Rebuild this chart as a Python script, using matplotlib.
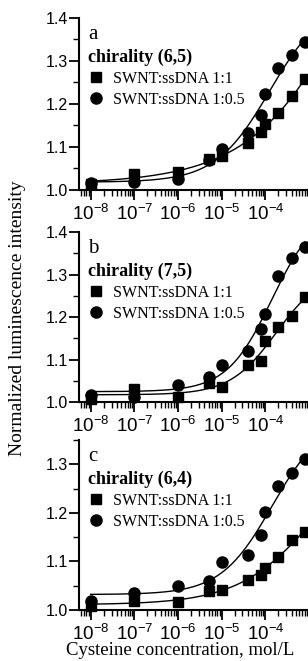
import numpy as np
import matplotlib
matplotlib.use("Agg")
import matplotlib.pyplot as plt
from matplotlib.ticker import LogLocator, MultipleLocator, NullFormatter, FixedLocator

# Datos (concentracion de cisteina, mol/L)
conc = [1e-8, 1e-7, 1e-6, 5e-6, 1e-5, 4e-5, 8e-5, 1e-4, 2e-4, 4e-4, 8e-4]

# (6,5)
a_11 = [1.013, 1.037, 1.041, 1.072, 1.080, 1.109, 1.134, 1.153, 1.178, 1.218, 1.257]
a_105 = [1.016, 1.019, 1.025, 1.070, 1.095, 1.132, 1.175, 1.223, 1.283, 1.313, 1.345]
# (7,5)
b_11 = [1.008, 1.031, 1.012, 1.045, 1.035, 1.086, 1.097, 1.144, 1.176, 1.203, 1.246]
b_105 = [1.016, 1.011, 1.039, 1.060, 1.088, 1.121, 1.172, 1.207, 1.296, 1.338, 1.365]
# (6,4)
c_11 = [1.008, 1.018, 1.017, 1.040, 1.042, 1.061, 1.073, 1.086, 1.110, 1.145, 1.160]
c_105 = [1.019, 1.034, 1.050, 1.059, 1.098, 1.114, 1.155, 1.201, 1.255, 1.282, 1.310]

letras = ['a', 'b', 'c']
quiralidad = ['chirality (6,5)', 'chirality (7,5)', 'chirality (6,4)']
series = [(a_11, a_105), (b_11, b_105), (c_11, c_105)]
ytops = [1.4, 1.4, 1.35]
etiquetas = ['SWNT:ssDNA 1:1', 'SWNT:ssDNA 1:0.5']

SERIF = 'Liberation Serif'
SANS = 'Liberation Sans'
plt.rcParams['mathtext.fontset'] = 'custom'
plt.rcParams['mathtext.rm'] = SANS
plt.rcParams['mathtext.it'] = SANS
plt.rcParams['mathtext.default'] = 'regular'


# Ajuste tipo Hill: y = y0 + A x^n / (K^n + x^n)
def ajuste_hill(x, y):
    x = np.asarray(x)
    y = np.asarray(y)
    mejor = None
    for lk in np.linspace(-6, -1, 101):
        for n in np.linspace(0.1, 1.5, 71):
            f = x**n / (10**(lk * n) + x**n)
            M = np.column_stack([np.ones_like(f), f])
            coef, *_ = np.linalg.lstsq(M, y, rcond=None)
            err = np.sum((M @ coef - y)**2)
            if mejor is None or err < mejor[0]:
                mejor = (err, lk, n, coef)
    _, lk, n, coef = mejor
    return lambda xx: coef[0] + coef[1] * xx**n / (10**(lk * n) + xx**n)


def etiqueta_x(v, p):
    return r'$10^{%d}$' % int(round(np.log10(v)))


fig = plt.figure(figsize=(3.08, 6.61), dpi=100)
posiciones = [[0.2565, 0.7126, 0.7435, 0.2602],
              [0.2565, 0.3918, 0.7435, 0.2572],
              [0.2565, 0.0772, 0.7435, 0.2572]]

xx = np.logspace(-8, np.log10(8e-4), 300)

for i in range(3):
    ax = fig.add_axes(posiciones[i])
    s11, s105 = series[i]
    for datos in (s11, s105):
        f = ajuste_hill(conc, datos)
        ax.plot(xx, f(xx), color='black', lw=1.0, clip_on=False)
    ax.plot(conc, s11, 's', color='black', ms=7, clip_on=False,
            label=etiquetas[0], zorder=3)
    ax.plot(conc, s105, 'o', color='black', ms=8, clip_on=False,
            label=etiquetas[1], zorder=3)

    ax.set_xscale('log')
    ax.set_xlim(5.4e-9, 9.5e-4)
    ax.set_ylim(1.0, ytops[i])
    ax.spines['top'].set_visible(False)
    ax.spines['right'].set_visible(False)
    ax.spines['left'].set_linewidth(1.5)
    ax.spines['bottom'].set_linewidth(1.5)

    ax.xaxis.set_major_locator(FixedLocator([1e-8, 1e-7, 1e-6, 1e-5, 1e-4]))
    ax.xaxis.set_major_formatter(plt.FuncFormatter(etiqueta_x))
    ax.xaxis.set_minor_locator(LogLocator(base=10, subs=np.arange(2, 10), numticks=20))
    ax.xaxis.set_minor_formatter(NullFormatter())
    ax.yaxis.set_major_locator(MultipleLocator(0.1))
    ax.yaxis.set_minor_locator(MultipleLocator(0.05))
    ax.yaxis.set_major_formatter(plt.FuncFormatter(lambda v, p: f'{v:.1f}'))
    ax.tick_params(axis='both', which='major', direction='out', length=7, width=1.3)
    ax.tick_params(axis='both', which='minor', direction='out', length=4, width=1.0)
    ax.tick_params(axis='x', labelsize=13.5, pad=3)
    ax.tick_params(axis='y', labelsize=11.5, pad=1)
    for lab in ax.get_xticklabels() + ax.get_yticklabels():
        lab.set_fontfamily(SANS)

    ax.text(0.04, 0.96, letras[i], transform=ax.transAxes, fontsize=15,
            family=SERIF, va='top', ha='left')
    leg = ax.legend(loc='upper left', bbox_to_anchor=(-0.01, 0.885), frameon=False,
                    title=quiralidad[i], alignment='left',
                    prop={'family': SERIF, 'size': 11.5},
                    handletextpad=0.6, labelspacing=0.3, borderpad=0.2,
                    handlelength=1.0)
    leg.get_title().set_fontfamily(SERIF)
    leg.get_title().set_fontweight('bold')
    leg.get_title().set_fontsize(13)

fig.text(0.058, 0.519, 'Normalized luminescence intensity', rotation=90,
         ha='center', va='center', family=SERIF, fontsize=14)
fig.text(0.584, 0.003, 'Cysteine concentration, mol/L', ha='center', va='bottom',
         family=SERIF, fontsize=13.5)

fig.savefig('out.png', dpi=100)
